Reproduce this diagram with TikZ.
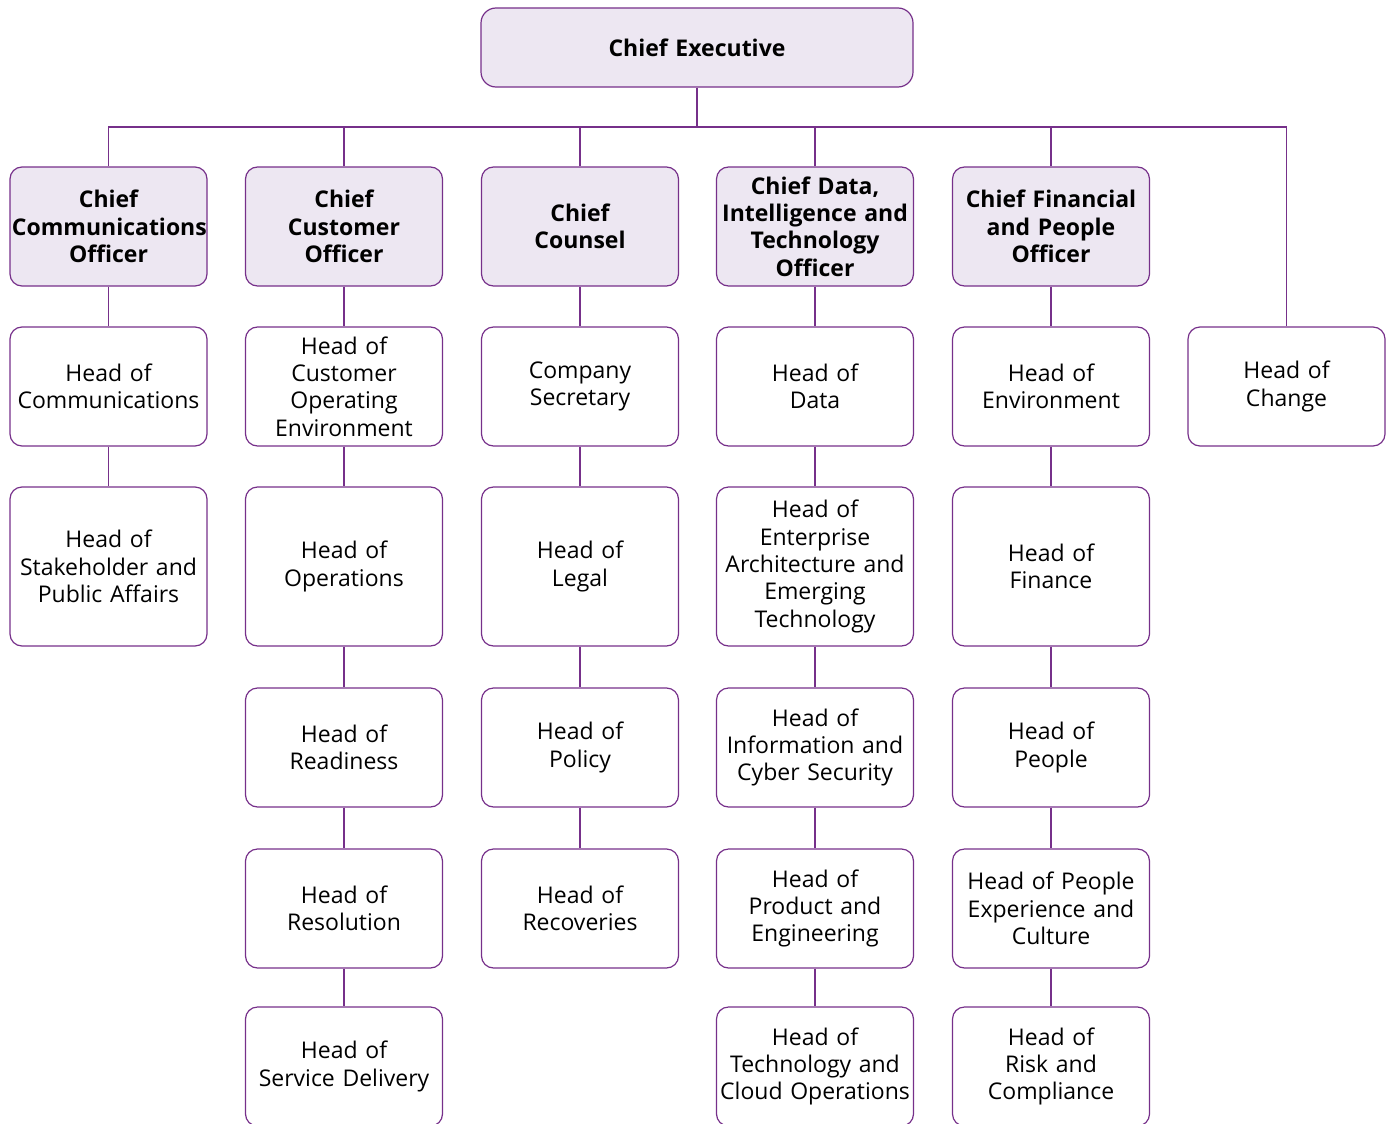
\documentclass[tikz,border=0pt]{standalone}
\usepackage{fontspec}
\setmainfont{Open Sans}
\definecolor{orgpurple}{RGB}{118,48,138}
\definecolor{orglilac}{RGB}{237,231,242}
\usetikzlibrary{positioning}

\begin{document}
\begin{tikzpicture}[x=1pt, y=-1pt,
    box/.style={draw=orgpurple, line width=1.2pt, rounded corners=12pt, inner sep=2pt,
        minimum width=197pt, minimum height=119pt, text width=193pt, align=center,
        font=\fontsize{23}{27.4}\selectfont},
    chiefbox/.style={box, fill=orglilac, font=\bfseries\fontsize{23}{27.4}\selectfont},
    tallbox/.style={box, minimum height=159pt},
    link/.style={draw=orgpurple, line width=1.2pt}]
    \useasboundingbox (0,0) rectangle (1392,1124);
    \clip (0,0) rectangle (1392,1124);

    % top
    \node[chiefbox, minimum width=432pt, minimum height=79pt, text width=420pt, rounded corners=15pt] (ce) at (697,47.5) {Chief Executive};
    \coordinate (bus) at (697,127);

    % chiefs
    \node[chiefbox] (cco) at (108.5,226.5) {Chief\\Communications\\Officer};
    \node[chiefbox] (ccu) at (344,226.5) {Chief\\Customer\\Officer};
    \node[chiefbox] (ccl) at (580,226.5) {Chief\\Counsel};
    \node[chiefbox] (cdo) at (815,226.5) {Chief Data,\\Intelligence and\\Technology\\Officer};
    \node[chiefbox] (cfo) at (1051,226.5) {Chief Financial\\and People\\Officer};

    % communications
    \node[box] (hcomm) at (108.5,386.5) {Head of\\Communications};
    \node[tallbox] (hstake) at (108.5,566.5) {Head of\\Stakeholder and\\Public Affairs};

    % customer
    \node[box] (hcoe) at (344,386.5) {Head of\\Customer\\Operating\\Environment};
    \node[tallbox] (hops) at (344,566.5) {Head of\\Operations};
    \node[box] (hready) at (344,747.5) {Head of\\Readiness};
    \node[box] (hres) at (344,908.5) {Head of\\Resolution};
    \node[box] (hserv) at (344,1066.5) {Head of\\Service Delivery};

    % counsel
    \node[box] (csec) at (580,386.5) {Company\\Secretary};
    \node[tallbox] (hlegal) at (580,566.5) {Head of\\Legal};
    \node[box] (hpol) at (580,747.5) {Head of\\Policy};
    \node[box] (hrec) at (580,908.5) {Head of\\Recoveries};

    % data and technology
    \node[box] (hdata) at (815,386.5) {Head of\\Data};
    \node[tallbox] (hent) at (815,566.5) {Head of\\Enterprise\\Architecture and\\Emerging\\Technology};
    \node[box] (hcyber) at (815,747.5) {Head of\\Information and\\Cyber Security};
    \node[box] (hprod) at (815,908.5) {Head of\\Product and\\Engineering};
    \node[box] (htech) at (815,1066.5) {Head of\\Technology and\\Cloud Operations};

    % finance and people
    \node[box] (henv) at (1051,386.5) {Head of\\Environment};
    \node[tallbox] (hfin) at (1051,566.5) {Head of\\Finance};
    \node[box] (hpeople) at (1051,747.5) {Head of\\People};
    \node[box] (hpec) at (1051,908.5) {Head of People\\Experience and\\Culture};
    \node[box] (hrisk) at (1051,1066.5) {Head of\\Risk and\\Compliance};

    % change
    \node[box] (hchg) at (1286.5,386.5) {Head of\\Change};

    % connectors
    \draw[link] (ce) -- (bus);
    \draw[link] (cco.north) -- (cco.north |- bus) -| (hchg.north);
    \foreach \n in {ccu,ccl,cdo,cfo}
        \draw[link] (\n.north) -- (\n.north |- bus);
    \draw[link] (cco) -- (hcomm) -- (hstake);
    \draw[link] (ccu) -- (hcoe) -- (hops) -- (hready) -- (hres) -- (hserv);
    \draw[link] (ccl) -- (csec) -- (hlegal) -- (hpol) -- (hrec);
    \draw[link] (cdo) -- (hdata) -- (hent) -- (hcyber) -- (hprod) -- (htech);
    \draw[link] (cfo) -- (henv) -- (hfin) -- (hpeople) -- (hpec) -- (hrisk);
\end{tikzpicture}
\end{document}
